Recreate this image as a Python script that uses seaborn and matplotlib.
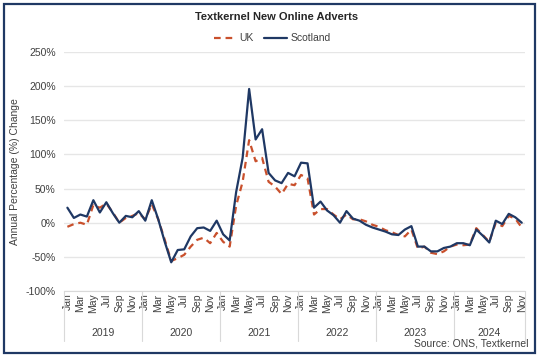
import matplotlib
matplotlib.use("Agg")
import matplotlib.pyplot as plt
import matplotlib.patches as patches
import matplotlib.transforms as mtransforms
from matplotlib.lines import Line2D
import seaborn as sns
import pandas as pd

# Monthly data, Jan 2019 - Nov 2024 (annual % change)
years = ['2019', '2020', '2021', '2022', '2023', '2024']
months = ['Jan', 'Feb', 'Mar', 'Apr', 'May', 'Jun',
          'Jul', 'Aug', 'Sep', 'Oct', 'Nov', 'Dec']

scotland = [22, 7, 12, 9, 33, 15, 30, 14, 0, 10, 8, 17,
            3, 33, 5, -28, -58, -40, -39, -20, -8, -7, -12, 3,
            -17, -26, 45, 95, 196, 122, 137, 73, 62, 58, 73, 68,
            88, 87, 22, 31, 18, 11, 0, 17, 6, 3, -3, -7,
            -10, -13, -17, -18, -10, -5, -35, -35, -42, -42, -37, -35,
            -30, -30, -33, -10, -19, -29, 3, -2, 13, 8, 0]

uk = [-6, -2, 0, -3, 26, 22, 28, 15, 0, 7, 10, 14,
      5, 27, 5, -25, -56, -52, -47, -35, -25, -22, -30, -15,
      -28, -35, 25, 60, 121, 90, 95, 60, 53, 42, 57, 55,
      70, 65, 12, 20, 20, 12, 5, 12, 5, 5, 2, -3,
      -6, -11, -14, -18, -20, -10, -38, -35, -44, -46, -42, -35,
      -32, -33, -32, -8, -18, -28, 0, -5, 10, 6, -7]

n = len(scotland)
labels = [months[i % 12] for i in range(n)]
df = pd.DataFrame({
    'idx': list(range(n)) * 2,
    'value': uk + scotland,
    'series': ['UK'] * n + ['Scotland'] * n,
})

sns.set_style("white")
plt.rcParams['font.family'] = ['Liberation Sans', 'DejaVu Sans']

fig = plt.figure(figsize=(5.39, 3.57), dpi=100)
ax = fig.add_axes([0.119, 0.185, 0.855, 0.669])

palette = {'UK': '#C9502C', 'Scotland': '#1F3864'}
sns.lineplot(data=df, x='idx', y='value', hue='series', style='series',
             dashes={'UK': (3, 2.2), 'Scotland': ''}, palette=palette,
             linewidth=1.6, ax=ax, legend=False)

ax.set_xlim(-0.5, n - 0.5)
ax.set_ylim(-100, 250)
ax.set_yticks(range(-100, 251, 50))
ax.set_yticklabels([f'{v}%' for v in range(-100, 251, 50)], fontsize=7.5, color='#404040')
ax.yaxis.grid(True, color='#E6E6E6', linewidth=1)
ax.set_axisbelow(True)

ax.set_xticks(range(0, n, 2))
ax.set_xticklabels(labels[::2], rotation=90, fontsize=7.5, color='#404040')
ax.tick_params(axis='x', length=0, pad=2)
ax.tick_params(axis='y', length=0, pad=6)
ax.set_xlabel('')
ax.set_ylabel('Annual Percentage (%) Change', fontsize=7.5, color='#404040', labelpad=4)

for s in ['top', 'right', 'left']:
    ax.spines[s].set_visible(False)
ax.spines['bottom'].set_color('#D9D9D9')

# year group separators and labels
trans = mtransforms.blended_transform_factory(ax.transData, ax.transAxes)
for k in range(len(years) + 1):
    xb = min(k * 12 - 0.5, n - 0.5)
    ax.plot([xb, xb], [0, -0.21], color='#D9D9D9', lw=0.8,
            transform=trans, clip_on=False)
for k, y in enumerate(years):
    xc = (k * 12 - 0.5 + min(k * 12 + 11.5, n - 0.5)) / 2
    ax.text(xc, -0.178, y, transform=trans, ha='center', va='center',
            fontsize=7.5, color='#404040')

# legend
handles = [Line2D([], [], color=palette['UK'], lw=1.6, dashes=(3, 2.2)),
           Line2D([], [], color=palette['Scotland'], lw=1.6)]
fig.legend(handles, ['UK', 'Scotland'], loc='center', bbox_to_anchor=(0.505, 0.893),
           ncol=2, frameon=False, fontsize=7.5, handlelength=2.2,
           columnspacing=1.0, handletextpad=0.3, labelcolor='#404040')

fig.text(0.514, 0.952, 'Textkernel New Online Adverts', ha='center', va='center',
         fontsize=8, fontweight='bold', color='#262626')
fig.text(0.98, 0.038, 'Source: ONS, Textkernel', ha='right', va='center',
         fontsize=7.5, color='#404040')

fig.patches.append(patches.Rectangle((0.007, 0.012), 0.986, 0.978, transform=fig.transFigure,
                                     fill=False, edgecolor='#1F3864', linewidth=1.6))

fig.savefig('out.png', dpi=100)
